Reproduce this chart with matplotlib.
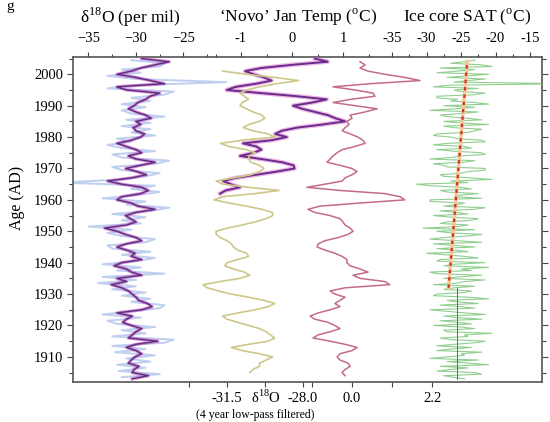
import numpy as np
import matplotlib
matplotlib.use("Agg")
from matplotlib import pyplot as plt
from matplotlib.ticker import FixedLocator

plt.rcParams['font.family'] = ['Liberation Serif', 'DejaVu Serif']
plt.rcParams['mathtext.fontset'] = 'custom'
plt.rcParams['mathtext.rm'] = 'Liberation Serif'

# ---- data ----
# annual d18O (per mil), 1903..2005
d18oYears = np.arange(1903, 2006)
d18oAnnual = [-30.4, -28.7, -30.4, -30.2, -29.7, -30.8, -30.5, -30.1, -29.4, -30.0,
              -31.0, -30.0, -27.7, -30.8, -30.4, -30.0, -29.4, -30.5, -31.4, -31.0,
              -30.4, -32.0, -29.4, -28.3, -28.8, -29.7, -30.0, -30.4, -30.8, -31.5,
              -32.6, -31.0, -32.0, -29.4, -30.5, -31.0, -32.3, -31.5, -29.4, -30.5,
              -30.1, -31.0, -32.0, -31.0, -29.4, -30.0, -31.1, -32.0, -33.3, -31.0,
              -30.0, -30.6, -31.1, -30.0, -28.0, -29.8, -30.5, -32.0, -31.5, -29.5,
              -28.7, -29.4, -31.5, -33.0, -30.5, -28.9, -29.9, -31.1, -29.5, -28.0,
              -30.0, -30.8, -29.4, -30.0, -31.0, -32.0, -30.5, -29.5, -29.1, -30.0,
              -30.3, -29.5, -30.0, -28.4, -29.0, -30.0, -30.8, -30.2, -29.8, -29.0,
              -28.5, -27.5, -31.0, -32.0, -27.0, -28.5, -30.0, -32.0, -30.5, -29.5,
              -28.0, -26.5, -29.4]
# raw d18O, mid-year samples 1903.5..2004.5
rawYears = np.arange(1903, 2005) + 0.5
d18oRaw = [-31.5, -27.5, -31.8, -29.0, -32.0, -28.5, -31.0, -28.0, -32.2, -29.0,
           -32.5, -27.0, -26.0, -32.5, -29.0, -31.5, -28.0, -32.0, -33.0, -29.5,
           -33.5, -30.5, -27.5, -27.0, -30.5, -28.5, -31.5, -29.0, -32.5, -30.0,
           -34.0, -30.0, -33.5, -27.0, -32.0, -29.5, -33.5, -30.0, -28.0, -31.5,
           -28.5, -32.5, -33.0, -29.0, -28.0, -31.5, -33.0, -30.5, -35.0, -29.5,
           -31.5, -29.0, -32.5, -28.5, -26.5, -31.0, -29.0, -33.5, -30.0, -27.5,
           -30.5, -28.0, -38.0, -31.5, -29.0, -27.5, -31.5, -32.5, -28.0, -26.5,
           -31.5, -32.5, -28.0, -31.5, -33.0, -30.5, -32.0, -28.0, -30.5, -28.5,
           -31.5, -28.5, -31.0, -27.0, -30.5, -31.5, -29.0, -31.5, -28.5, -30.5,
           -27.0, -26.0, -33.0, -30.5, -20.5, -30.0, -33.0, -29.5, -31.5, -27.5,
           -27.0, -30.5]

# 'Novo' January temperature (C), 1962..2005
novoYears = np.arange(1962, 2006)
novoTemp = [-1.41, -1.3, -1.02, -1.2, -1.35, -1.1, -0.7, -0.3, 0.05, 0.03,
            -0.2, -0.6, -1.02, -0.75, -0.6, -0.7, -0.96, -0.4, -0.1, -0.33,
            -0.2, 0.1, 0.6, 1.04, 0.85, 0.7, 0.45, 0.2, 0.02, 0.4,
            0.68, 0.1, -0.6, -1.28, -1.1, -0.7, -0.4, -0.55, -0.75, -0.92,
            -0.6, 0.0, 0.7, 0.45]

# d18O 4 year low-pass, 1905..2001
lowYears = np.arange(1905, 2002)
d18oLow = [-30.45, -30.3, -30.0, -30.0, -29.7, -29.4, -30.0, -30.8, -31.3, -30.5,
           -29.6, -29.3, -29.5, -29.7, -30.0, -30.5, -31.0, -31.5, -31.7, -31.0,
           -30.2, -29.6, -29.3, -29.8, -30.5, -31.3, -31.9, -32.4, -32.6, -31.8,
           -30.9, -30.45, -30.7, -31.2, -31.6, -31.5, -31.0, -30.5, -30.6, -31.0,
           -31.2, -31.3, -31.5, -31.8, -32.0, -32.0, -31.5, -30.8, -30.2, -29.7,
           -29.4, -29.4, -29.9, -30.6, -31.4, -32.1, -31.7, -30.2, -29.1, -30.5,
           -31.7, -32.0, -31.2, -30.4, -30.0, -29.8, -30.0, -30.4, -30.5, -30.5,
           -30.2, -30.6, -31.4, -31.8, -30.8, -29.3, -29.6, -30.3, -30.75, -30.5,
           -30.0, -29.75, -29.9, -30.3, -30.6, -30.9, -30.8, -30.5, -30.7, -30.9,
           -30.6, -30.0, -29.2, -28.2, -29.3, -30.6, -31.7]

# pink index (low-pass), 1904..2004
pinkYears = np.arange(1904, 2005)
pinkIndex = [-0.19, -0.27, -0.19, -0.05, -0.11, -0.33, -0.41, -0.33, 0.0, 0.14,
             -0.19, -0.6, -1.07, -0.93, -0.6, -0.33, -0.47, -0.66, -1.02, -1.15,
             -0.93, -0.6, -0.33, -0.47, -0.33, -0.19, -0.47, -0.6, -0.19, 1.04,
             0.9, 0.22, 0.03, 0.44, 0.22, -0.05, -0.14, -0.14, -0.27, -0.47,
             -0.74, -0.96, -0.93, -0.74, -0.38, -0.11, 0.03, -0.05, -0.19, -0.25,
             -0.33, -0.6, -1.02, -1.21, -0.88, 0.22, 1.45, 1.32, 0.9, -0.33,
             -1.24, -0.74, -0.27, -0.19, 0.0, 0.14, 0.0, -0.33, -0.69, -0.6,
             -0.52, -0.41, -0.27, 0.08, 0.36, 0.3, 0.16, -0.05, -0.27, -0.19,
             -0.08, -0.14, 0.0, -0.05, 0.36, 0.69, 0.08, -0.52, -0.05, 0.63,
             0.58, 0.08, -0.52, 0.5, 1.87, 1.45, 0.9, 0.44, 0.22, 0.36,
             0.22]

# ice core SAT (C), two samples a year: whole years 1903..2004 and mid-years
satYears = np.arange(1903, 2005)
satValues = [-24.5, -27.5, -23.0, -26.5, -28.0, -24.0, -22.5, -27.0, -25.0, -28.5,
             -23.5, -26.0, -21.5, -28.0, -24.5, -27.0, -23.0, -29.0, -25.5, -22.0,
             -27.5, -24.5, -29.5, -25.0, -22.5, -27.0, -24.0, -28.5, -23.5, -26.0,
             -29.0, -24.5, -27.5, -22.0, -29.5, -25.0, -27.5, -21.5, -28.0, -24.5,
             -30.0, -26.0, -23.0, -29.0, -25.5, -27.5, -22.0, -28.5, -30.5, -24.0,
             -27.0, -22.5, -29.0, -25.5, -23.0, -27.5, -24.5, -29.5, -26.0, -22.5,
             -28.0, -25.0, -31.5, -26.5, -23.5, -28.0, -24.0, -21.5, -27.5, -24.5,
             -29.5, -25.0, -22.0, -28.5, -24.5, -27.0, -22.0, -26.5, -28.5, -23.0,
             -26.0, -21.0, -27.5, -24.0, -28.0, -22.5, -26.0, -27.5, -23.0, -25.5,
             -28.5, -21.5, -26.0, -29.0, -10.0, -24.0, -27.0, -21.0, -25.5, -28.0,
             -22.0, -24.5]
satMidYears = np.arange(1903, 2005) + 0.5
satMidValues = [-26.0, -22.0, -28.5, -24.0, -21.0, -27.0, -29.5, -24.5, -22.0, -26.5,
                -28.5, -23.0, -26.5, -24.0, -20.5, -27.5, -25.0, -23.5, -28.0, -25.5,
                -21.5, -27.0, -23.0, -28.0, -25.5, -21.0, -29.0, -24.5, -27.5, -23.0,
                -25.5, -21.5, -25.0, -28.5, -23.5, -21.0, -26.0, -28.5, -22.5, -27.0,
                -24.0, -28.5, -26.0, -22.0, -29.5, -24.0, -26.5, -23.0, -25.5, -28.0,
                -23.5, -26.5, -24.0, -28.0, -21.5, -25.5, -29.5, -22.0, -25.0, -27.0,
                -23.5, -29.5, -24.0, -20.5, -27.5, -25.0, -21.5, -27.0, -29.0, -23.0,
                -26.5, -21.5, -26.0, -23.5, -29.0, -21.5, -25.5, -29.0, -24.0, -22.0,
                -27.5, -25.0, -22.0, -27.0, -25.0, -29.5, -23.0, -21.0, -26.5, -28.5,
                -23.0, -25.0, -22.5, -27.0, -26.0, -21.5, -24.0, -28.5, -23.0, -20.5,
                -26.5, -23.0]
satTrendYears = [1932, 2004]
satTrendValues = [-26.8, -24.1]
satEarlyYears = [1903, 1932]
satEarlyValues = [-25.6, -25.6]

yearTicks = list(range(1910, 2001, 10))

# pixel layout of the panel (left/right edge) and the scales
LEFT, RIGHT = 73, 542
TICKCOL = '#444444'


def scaleLims(px0, pxPerUnit):
    return ((LEFT - px0) / pxPerUnit, (RIGHT - px0) / pxPerUnit)


def topTicks(a):
    a.tick_params(axis='x', which='major', direction='out', pad=5, labelsize=10.5,
                  length=3.5, width=0.8, color=TICKCOL)
    a.tick_params(axis='x', which='minor', direction='out', length=2.5, width=0.8,
                  color=TICKCOL)


def twin(ax, lims, ticks, labels, minor, where):
    t = ax.twiny()
    for s in t.spines.values():
        s.set_visible(False)
    t.set_xlim(*lims)
    t.set_xticks(ticks)
    t.set_xticklabels(labels)
    t.xaxis.set_minor_locator(FixedLocator(minor))
    if where == 'bottom':
        t.xaxis.tick_bottom()
        t.tick_params(axis='x', which='major', direction='out', pad=4, labelsize=10.5,
                      length=3.5, width=0.8, color=TICKCOL)
    else:
        t.xaxis.tick_top()
        topTicks(t)
    t.set_ylim(1902, 2005.5)
    return t


fig = plt.figure(figsize=(5.5, 4.22), dpi=100)
ax = fig.add_axes([LEFT / 550, 40 / 422, (RIGHT - LEFT) / 550, 325 / 422])

# d18O panel on the main axes
ax.plot(d18oRaw, rawYears, color='#9db6e8', lw=1.4, alpha=0.65, zorder=2)
ax.plot(d18oAnnual, d18oYears, color='#cc44b8', lw=2.4, alpha=0.55, zorder=3)
ax.plot(d18oAnnual, d18oYears, color='#55307f', lw=1.0, zorder=4)
ax.set_xlim(*scaleLims(421, 9.5))
ax.set_ylim(1902, 2005.5)
ax.set_xticks([-35, -30, -25])
ax.xaxis.set_minor_locator(FixedLocator([-32.5, -27.5, -22.5]))
ax.set_yticks(yearTicks)
ax.yaxis.set_minor_locator(FixedLocator(list(range(1905, 2006, 5))))
ax.tick_params(axis='y', which='both', left=True, right=True, direction='out',
               labelsize=10.5, pad=3, width=0.8, color=TICKCOL)
ax.tick_params(axis='y', which='major', length=4)
ax.tick_params(axis='y', which='minor', length=3)
for s in ax.spines.values():
    s.set_color('#555555')
    s.set_linewidth(1.2)

# 'Novo' Jan temperature (top scale)
axNovo = twin(ax, scaleLims(292, 51), [-1, 0, 1], ['-1', '0', '1'], [-1.5, -0.5, 0.5, 1.5], 'top')
axNovo.plot(novoTemp, novoYears, color='#e07ad2', lw=3.2, alpha=0.55)
axNovo.plot(novoTemp, novoYears, color='#6a2c8a', lw=1.4)

# ice core SAT (top scale)
axSat = twin(ax, scaleLims(633.5, 6.9), [-35, -30, -25, -20, -15],
             ['-35', '-30', '-25', '-20', '-15'], [-32.5, -27.5, -22.5, -17.5, -12.5], 'top')
allSatYears = np.concatenate([satYears, satMidYears])
allSatValues = np.concatenate([satValues, satMidValues])
order = np.argsort(allSatYears)
axSat.plot(allSatValues[order], allSatYears[order], color='#74c274', lw=0.8, alpha=0.8)
axSat.plot(satEarlyValues, satEarlyYears, color='#666666', lw=0.7)
axSat.plot(satTrendValues, satTrendYears, color='#f3c99b', lw=2.6)
axSat.plot(satTrendValues, satTrendYears, color='#d0301e', lw=1.6, dashes=(1.5, 1.8))

# d18O low-pass (bottom scale)
axLow = twin(ax, scaleLims(227 + 21.7 * 31.5, 21.7), [-33.25, -31.5, -29.75, -28.0],
             ['', '-31.5', '', '-28.0'], [], 'bottom')
axLow.plot(d18oLow, lowYears, color='#cdc788', lw=1.2)

# pink index (bottom scale)
axPink = twin(ax, scaleLims(352, 36.4), [-1.1, 0.0, 1.1, 2.2], ['', '0.0', '', '2.2'], [], 'bottom')
axPink.plot(pinkIndex, pinkYears, color='#c46a8e', lw=1.1)

# twiny() moved the main axis ticks to the bottom; put them back on top
ax.xaxis.tick_top()
topTicks(ax)

# titles and labels
fig.text(130 / 550, 1 - 17 / 422, r'δ$^{18}$O (per mil)', ha='center', va='center', fontsize=12.5)
fig.text(298 / 550, 1 - 17 / 422, r'‘Novo’ Jan Temp ($^{\rm o}$C)', ha='center', va='center', fontsize=12.5)
fig.text(467 / 550, 1 - 17 / 422, r'Ice core SAT ($^{\rm o}$C)', ha='center', va='center', fontsize=12.5)
fig.text(17 / 550, 1 - 198 / 422, 'Age (AD)', rotation=90, ha='center', va='center', fontsize=11.5)
fig.text(266 / 550, 1 - 403 / 422, r'δ$^{18}$O', ha='center', va='baseline', fontsize=10.5)
fig.text(255 / 550, 1 - 415 / 422, '(4 year low-pass filtered)', ha='center', va='center', fontsize=8.5)
fig.text(10 / 550, 1.0, 'g', ha='center', va='top', fontsize=11)

fig.savefig('out.png', dpi=100)
